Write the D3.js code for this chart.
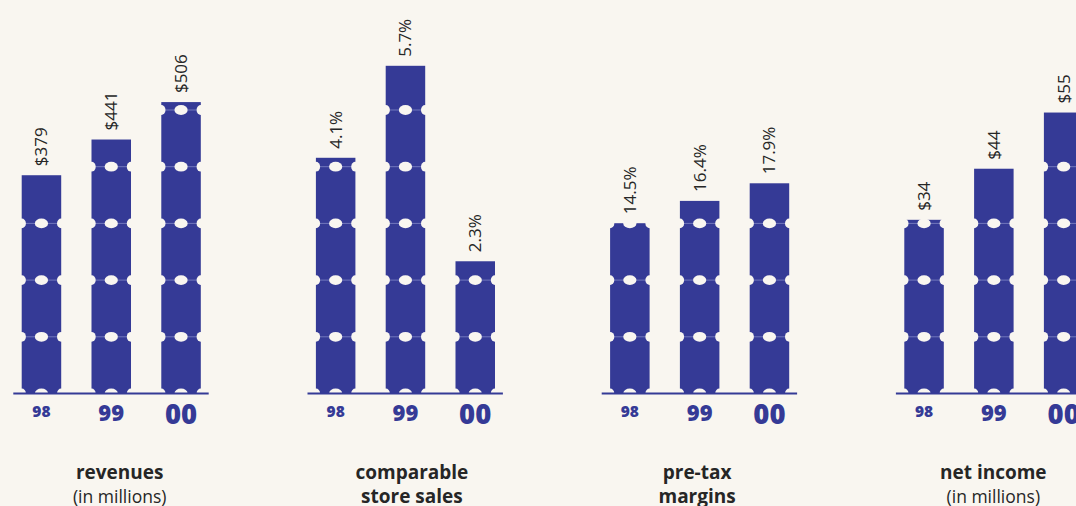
<!DOCTYPE html>
<html>
<head>
<meta charset="utf-8">
<script src="https://cdn.jsdelivr.net/npm/d3@7"></script>
<style>
  html, body { margin: 0; padding: 0; background: #f9f6f0; }
  svg { display: block; }
</style>
</head>
<body>
<svg id="chart" width="1076" height="506"></svg>
<script>
// ---- data ----
const years = ["98", "99", "00"];
const revenues = [379, 441, 506];
const compStoreSales = [4.1, 5.7, 2.3];
const pretaxMargins = [14.5, 16.4, 17.9];
const netIncome = [34, 44, 55];
const titleLine1 = ["revenues", "comparable", "pre-tax", "net income"];
const titleLine2 = ["(in millions)", "store sales", "margins", "(in millions)"];

// ---- layout / style ----
const W = 1076, H = 506;
const BG = "#f9f6f0", BLUE = "#353a96", TEXT = "#262626";
const baseline = 393.5, plotH = 330;
const panelX0 = 21.7, panelStep = 294.2;
const bandRange = 179.1;
const rowStep = 56.7;
const FONT = "'Open Sans', 'Noto Sans', sans-serif";

const panels = [
  { values: revenues, yMax: 573, fmt: v => "$" + v, titleDx: 98, line2Bold: false },
  { values: compStoreSales, yMax: 5.74, fmt: v => v.toFixed(1) + "%", titleDx: 96, line2Bold: true },
  { values: pretaxMargins, yMax: 28.1, fmt: v => v.toFixed(1) + "%", titleDx: 87, line2Bold: true },
  { values: netIncome, yMax: 64.6, fmt: v => "$" + v, titleDx: 89, line2Bold: false }
];
const yearFont = [15.5, 22, 27.5];
const yearBase = [416.7, 420.7, 424.3];

const svg = d3.select("#chart");
svg.append("rect").attr("width", W).attr("height", H).attr("fill", BG);

const x = d3.scaleBand().domain(years).range([0, bandRange]).paddingInner(0.434).paddingOuter(0);

panels.forEach((p, i) => {
  const g = svg.append("g").attr("transform", `translate(${panelX0 + i * panelStep},0)`);
  const y = d3.scaleLinear().domain([0, p.yMax]).range([baseline, baseline - plotH]);
  const bw = x.bandwidth();

  const data = years.map((yr, j) => ({ yr, v: p.values[j], j }));

  // bars
  const bars = g.selectAll("g.bar").data(data).join("g").attr("class", "bar");
  bars.append("rect")
    .attr("x", d => x(d.yr))
    .attr("y", d => y(d.v))
    .attr("width", bw)
    .attr("height", d => baseline - y(d.v))
    .attr("fill", BLUE);

  // perforations
  bars.each(function(d) {
    const top = y(d.v);
    const bg = d3.select(this);
    const rows = [];
    for (let k = 0; baseline - k * rowStep >= top - 1.5; k++) rows.push(baseline - k * rowStep);
    const x0 = x(d.yr), x1 = x0 + bw, cx = x0 + bw / 2;
    rows.forEach(ry => {
      if (ry > top + 1.5) {
        bg.append("line")
          .attr("x1", x0).attr("x2", x1).attr("y1", ry).attr("y2", ry)
          .attr("stroke", "#8288c6").attr("stroke-width", 0.8);
      }
      bg.append("ellipse").attr("cx", cx).attr("cy", ry).attr("rx", 6.6).attr("ry", 4.9).attr("fill", BG);
      bg.append("ellipse").attr("cx", x0).attr("cy", ry).attr("rx", 4.2).attr("ry", 4.9).attr("fill", BG);
      bg.append("ellipse").attr("cx", x1).attr("cy", ry).attr("rx", 4.2).attr("ry", 4.9).attr("fill", BG);
    });
  });

  // axis baseline
  g.append("line")
    .attr("x1", -8.4).attr("x2", 187)
    .attr("y1", baseline).attr("y2", baseline)
    .attr("stroke", BLUE).attr("stroke-width", 2.2);

  // value labels (rotated)
  g.selectAll("text.val").data(data).join("text").attr("class", "val")
    .attr("transform", d => `translate(${x(d.yr) + bw / 2 + 6},${y(d.v) - 9}) rotate(-90)`)
    .attr("font-family", FONT).attr("font-size", 17).attr("fill", TEXT)
    .text(d => p.fmt(d.v));

  // year labels
  g.selectAll("text.yr").data(data).join("text").attr("class", "yr")
    .attr("x", d => x(d.yr) + bw / 2)
    .attr("y", d => yearBase[d.j])
    .attr("text-anchor", "middle")
    .attr("font-family", FONT).attr("font-weight", 800)
    .attr("font-size", d => yearFont[d.j])
    .attr("fill", BLUE)
    .text(d => d.yr);

  // titles
  g.append("text")
    .attr("x", p.titleDx).attr("y", 479.3)
    .attr("text-anchor", "middle")
    .attr("font-family", FONT).attr("font-weight", 700).attr("font-size", 19).attr("fill", TEXT)
    .text(titleLine1[i]);
  g.append("text")
    .attr("x", p.titleDx).attr("y", 502.5)
    .attr("text-anchor", "middle")
    .attr("font-family", FONT).attr("font-weight", p.line2Bold ? 700 : 400)
    .attr("font-size", p.line2Bold ? 19 : 17.5).attr("fill", TEXT)
    .text(titleLine2[i]);
});
</script>
</body>
</html>
